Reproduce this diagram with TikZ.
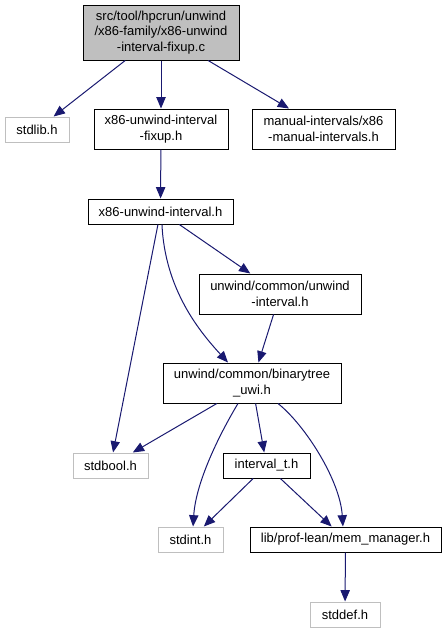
\documentclass[tikz,border=0pt]{standalone}
\usepackage{fontspec}
\setmainfont{Liberation Sans}
\usetikzlibrary{arrows.meta}
\newdimen\px \px=0.75pt
\definecolor{edgec}{HTML}{191970}
\definecolor{grayb}{HTML}{BFBFBF}
\begin{document}
\begin{tikzpicture}[x=0.75pt,y=-0.75pt,
  box/.style={draw=black,line width=0.75pt,align=center,inner sep=0pt,fill=white,
    font=\fontsize{9.75}{11.6}\selectfont},
  ext/.style={box,draw=grayb},
  dep/.style={draw=edgec,line width=0.75pt,-{Triangle[length=8.5pt,width=7pt]}},
]
\useasboundingbox (0,0) rectangle (446,633);
\node[box,fill=grayb,minimum width=156\px,minimum height=55\px] (main) at (161,32.5)
  {src/tool/hpcrun/unwind\\/x86-family/x86-unwind\\-interval-fixup.c};
\node[ext,minimum width=64\px,minimum height=25\px] (stdlib) at (37,129.5) {stdlib.h};
\node[box,minimum width=134\px,minimum height=40\px] (fixup) at (161,129) {x86-unwind-interval\\-fixup.h};
\node[box,minimum width=143\px,minimum height=40\px] (manual) at (323.5,129) {manual-intervals/x86\\-manual-intervals.h};
\node[box,minimum width=145\px,minimum height=25\px] (x86ui) at (160.5,211.5) {x86-unwind-interval.h};
\node[box,minimum width=162\px,minimum height=40\px] (unwint) at (280,294) {unwind/common/unwind\\-interval.h};
\node[box,minimum width=178\px,minimum height=40\px] (btree) at (252,383) {unwind/common/binarytree\\\_uwi.h};
\node[ext,minimum width=75\px,minimum height=25\px] (stdbool) at (110.5,465.5) {stdbool.h};
\node[box,minimum width=87\px,minimum height=25\px] (intervalt) at (266.5,465.5) {interval\_t.h};
\node[ext,minimum width=65\px,minimum height=25\px] (stdint) at (190.5,539.5) {stdint.h};
\node[box,minimum width=191\px,minimum height=25\px] (memm) at (345.5,539.5) {lib/prof-lean/mem\_manager.h};
\node[ext,minimum width=70\px,minimum height=25\px] (stddef) at (345,614.5) {stddef.h};

\draw[dep] (main) -- (stdlib);
\draw[dep] (main) -- (fixup);
\draw[dep] (main) -- (manual);
\draw[dep] (fixup) -- (x86ui);
\draw[dep] (x86ui) -- (unwint);
\draw[dep] (x86ui) -- (stdbool);
\draw[dep] ([xshift=1.1pt]x86ui.south) .. controls (165,290) and (200,332) .. ([xshift=-18pt]btree.north);
\draw[dep] (unwint) -- (btree);
\draw[dep] (btree) -- (stdbool);
\draw[dep] (btree) -- (intervalt);
\draw[dep] ([xshift=-10.5pt]btree.south) .. controls (222,430) and (196,480) .. ([xshift=1.9pt]stdint.north);
\draw[dep] ([xshift=19.5pt]btree.south) .. controls (305,425) and (340,480) .. ([xshift=-1.9pt]memm.north);
\draw[dep] (intervalt) -- (stdint);
\draw[dep] (intervalt) -- (memm);
\draw[dep] (memm) -- (stddef);
\end{tikzpicture}
\end{document}
